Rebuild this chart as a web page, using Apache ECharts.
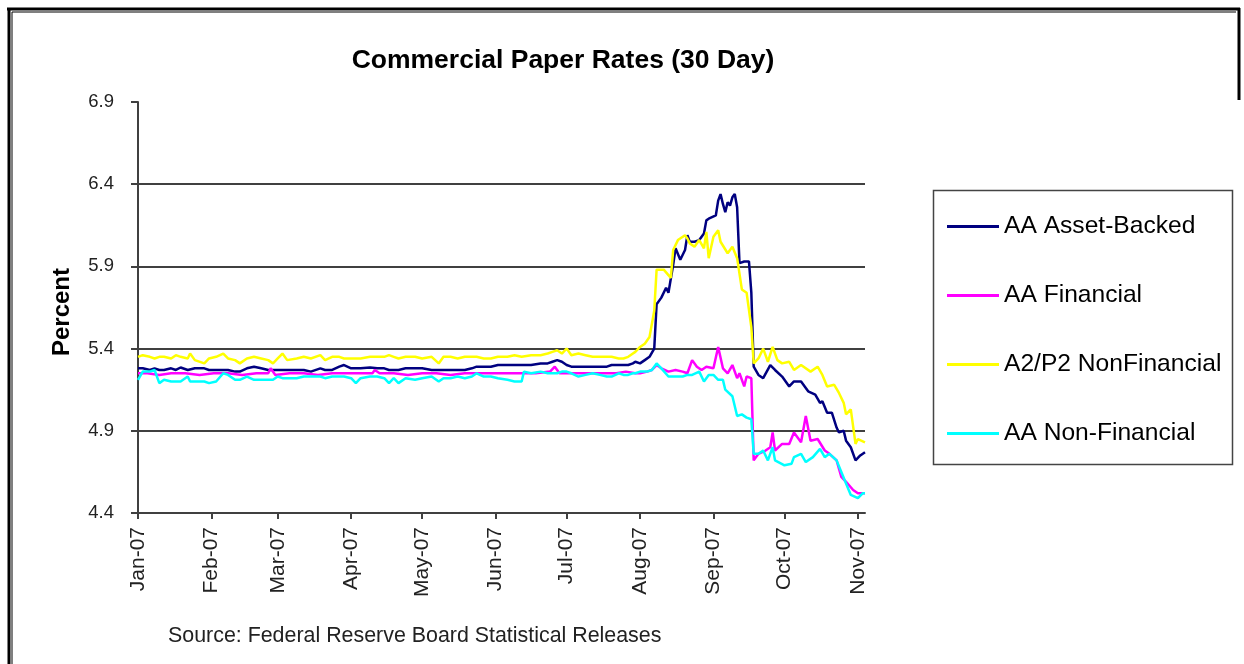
<!DOCTYPE html>
<html>
<head>
<meta charset="utf-8">
<script src="https://cdn.jsdelivr.net/npm/echarts/dist/echarts.min.js"></script>
<style>
html,body{margin:0;padding:0;background:#fff;}
#chart{width:1244px;height:664px;}
</style>
</head>
<body>
<div id="chart"></div>
<script>
// Data points: [days since 2007-01-01, percent]
const monthLabels = ['Jan-07','Feb-07','Mar-07','Apr-07','May-07','Jun-07','Jul-07','Aug-07','Sep-07','Oct-07','Nov-07','Dec-07'];
const seriesNames = ['AA Asset-Backed','AA Financial','A2/P2 NonFinancial','AA Non-Financial'];
const yTicks = [4.4, 4.9, 5.4, 5.9, 6.4, 6.9];

const assetBacked = [[0,5.28],[2,5.28],[5,5.27],[7,5.28],[9,5.27],[11,5.27],[14,5.28],[16,5.27],[18,5.285],[21,5.27],[24,5.28],[28,5.28],[30,5.27],[33,5.27],[36,5.27],[38,5.27],[41,5.26],[43,5.26],[46,5.28],[49,5.29],[52,5.28],[55,5.27],[59,5.27],[63,5.27],[67,5.27],[70,5.27],[73,5.26],[77,5.28],[79,5.27],[82,5.27],[85,5.29],[87,5.30],[90,5.28],[94,5.28],[98,5.285],[101,5.28],[104,5.28],[106,5.27],[110,5.27],[113,5.28],[117,5.28],[120,5.28],[124,5.27],[127,5.27],[132,5.27],[135,5.27],[138,5.27],[141,5.28],[143,5.29],[146,5.29],[149,5.29],[152,5.30],[156,5.30],[159,5.30],[162,5.30],[166,5.30],[170,5.31],[173,5.31],[175,5.32],[177,5.33],[179,5.32],[181,5.30],[183,5.29],[186,5.29],[189,5.29],[192,5.29],[195,5.29],[198,5.29],[200,5.30],[203,5.30],[205,5.30],[207,5.30],[209,5.31],[210,5.32],[212,5.31],[214,5.33],[216,5.35],[218,5.40],[219,5.67],[221,5.71],[223,5.77],[224,5.74],[226,5.91],[227,6.01],[229,5.94],[231,6.00],[232,6.09],[233,6.05],[235,6.05],[237,6.06],[239,6.10],[240,6.18],[241,6.19],[244,6.21],[245,6.30],[246,6.34],[247,6.28],[248,6.23],[249,6.29],[250,6.27],[251,6.32],[252,6.34],[253,6.26],[254,5.92],[256,5.93],[258,5.93],[259,5.74],[260,5.29],[262,5.24],[264,5.22],[267,5.30],[269,5.27],[272,5.23],[275,5.17],[277,5.20],[280,5.20],[283,5.14],[286,5.12],[288,5.07],[289,5.08],[291,5.01],[293,5.01],[295,4.92],[296,4.89],[298,4.90],[299,4.84],[301,4.80],[303,4.72],[305,4.75],[307,4.77]];

const financial = [[0,5.25],[4,5.25],[9,5.24],[14,5.25],[20,5.25],[26,5.24],[32,5.25],[38,5.25],[44,5.24],[50,5.25],[55,5.25],[56,5.28],[58,5.24],[64,5.25],[70,5.25],[76,5.24],[82,5.25],[88,5.25],[94,5.25],[99,5.25],[100,5.27],[102,5.25],[108,5.25],[114,5.24],[120,5.25],[126,5.25],[132,5.24],[138,5.25],[144,5.25],[150,5.25],[156,5.25],[162,5.25],[168,5.25],[174,5.26],[176,5.29],[178,5.25],[184,5.25],[190,5.25],[196,5.25],[202,5.25],[206,5.26],[210,5.25],[212,5.25],[215,5.26],[217,5.27],[219,5.30],[221,5.28],[224,5.26],[227,5.27],[230,5.26],[232,5.25],[234,5.33],[236,5.29],[238,5.27],[240,5.29],[243,5.28],[245,5.41],[247,5.28],[249,5.25],[251,5.30],[253,5.22],[254,5.25],[256,5.17],[257,5.23],[259,5.22],[260,4.72],[262,4.76],[265,4.78],[267,4.80],[268,4.89],[269,4.78],[272,4.82],[275,4.82],[277,4.89],[280,4.83],[282,4.99],[284,4.84],[287,4.85],[290,4.78],[292,4.76],[295,4.72],[297,4.62],[299,4.59],[302,4.54],[304,4.52],[307,4.52]];

const a2p2NonFinancial = [[0,5.35],[2,5.36],[5,5.35],[7,5.34],[9,5.35],[11,5.35],[14,5.34],[16,5.36],[18,5.35],[21,5.34],[22,5.37],[24,5.33],[28,5.31],[30,5.34],[33,5.35],[36,5.37],[38,5.34],[41,5.33],[43,5.31],[46,5.34],[49,5.35],[52,5.34],[55,5.33],[57,5.31],[59,5.34],[61,5.37],[63,5.33],[67,5.34],[70,5.35],[73,5.34],[77,5.36],[79,5.33],[82,5.35],[85,5.35],[87,5.34],[90,5.34],[94,5.34],[98,5.35],[101,5.35],[104,5.35],[106,5.36],[108,5.35],[110,5.34],[113,5.35],[117,5.35],[120,5.34],[124,5.35],[127,5.31],[129,5.35],[132,5.35],[135,5.34],[138,5.35],[141,5.35],[143,5.35],[146,5.34],[149,5.34],[152,5.35],[156,5.35],[159,5.36],[162,5.35],[166,5.36],[170,5.36],[173,5.37],[175,5.38],[177,5.39],[179,5.37],[181,5.40],[183,5.36],[186,5.37],[189,5.36],[192,5.35],[195,5.35],[198,5.35],[200,5.35],[203,5.34],[205,5.34],[207,5.35],[209,5.37],[210,5.38],[212,5.41],[214,5.43],[216,5.47],[218,5.63],[219,5.88],[222,5.88],[225,5.83],[226,6.00],[228,6.06],[231,6.09],[232,6.07],[233,6.04],[235,6.02],[237,6.06],[239,6.01],[240,6.11],[241,5.95],[243,6.08],[245,6.12],[246,6.05],[249,5.98],[251,6.02],[253,5.95],[255,5.76],[257,5.74],[259,5.53],[260,5.31],[262,5.34],[264,5.40],[266,5.32],[268,5.41],[270,5.33],[272,5.31],[275,5.32],[277,5.27],[280,5.30],[284,5.26],[287,5.29],[289,5.24],[291,5.17],[294,5.18],[296,5.13],[298,5.07],[299,5.00],[301,5.03],[303,4.82],[304,4.85],[307,4.83]];

const nonFinancial = [[0,5.21],[2,5.26],[5,5.26],[7,5.27],[9,5.19],[11,5.21],[14,5.20],[16,5.20],[18,5.20],[21,5.23],[22,5.20],[24,5.20],[28,5.20],[30,5.19],[33,5.20],[36,5.25],[38,5.24],[41,5.21],[43,5.21],[46,5.23],[49,5.21],[52,5.21],[55,5.21],[57,5.21],[59,5.23],[61,5.22],[63,5.22],[67,5.22],[70,5.23],[73,5.23],[77,5.23],[79,5.22],[82,5.23],[85,5.23],[87,5.23],[90,5.22],[92,5.19],[94,5.22],[98,5.23],[101,5.23],[104,5.22],[106,5.19],[108,5.22],[110,5.19],[113,5.22],[117,5.21],[120,5.22],[124,5.23],[127,5.20],[129,5.22],[132,5.22],[135,5.23],[138,5.22],[141,5.23],[143,5.25],[146,5.23],[149,5.23],[152,5.22],[156,5.21],[159,5.20],[162,5.20],[163,5.26],[166,5.25],[170,5.26],[173,5.25],[175,5.25],[177,5.25],[179,5.26],[181,5.26],[183,5.25],[186,5.23],[189,5.24],[192,5.25],[195,5.24],[198,5.23],[200,5.23],[203,5.25],[205,5.24],[207,5.24],[209,5.25],[210,5.25],[212,5.26],[215,5.26],[217,5.27],[219,5.31],[221,5.28],[224,5.23],[227,5.23],[230,5.23],[232,5.24],[234,5.24],[237,5.26],[239,5.20],[241,5.24],[243,5.24],[245,5.21],[247,5.21],[248,5.15],[251,5.11],[253,4.99],[255,5.00],[257,4.98],[259,4.97],[260,4.76],[262,4.76],[264,4.78],[266,4.72],[268,4.80],[269,4.72],[273,4.69],[276,4.70],[277,4.74],[280,4.76],[282,4.71],[285,4.74],[288,4.79],[290,4.74],[292,4.76],[295,4.72],[297,4.65],[299,4.58],[301,4.51],[304,4.49],[306,4.52],[307,4.52]];

const seriesColors = ['#000080','#FF00FF','#FFFF00','#00FFFF'];
const seriesData = [assetBacked, financial, a2p2NonFinancial, nonFinancial];

// Calendar-day category axis: 2007-01-01 .. 2007-11-04
const DAY_COUNT = 308;
const startMs = Date.UTC(2007, 0, 1);
const dayDates = [];
const categories = [];
for (let i = 0; i < DAY_COUNT; i++) {
  const d = new Date(startMs + i * 86400000);
  dayDates.push(d);
  categories.push(d.toISOString().slice(0, 10));
}
const isMonthStart = (idx) => dayDates[idx] && dayDates[idx].getUTCDate() === 1;

const FONT = "'Liberation Sans', Arial, sans-serif";
const chart = echarts.init(document.getElementById('chart'), null, {renderer: 'canvas'});

chart.setOption({
  animation: false,
  backgroundColor: '#ffffff',
  textStyle: {fontFamily: FONT},
  title: {
    text: 'Commercial Paper Rates (30 Day)',
    left: 563, top: 47, textAlign: 'center', padding: 0,
    textStyle: {fontFamily: FONT, fontWeight: 'bold', fontSize: 26.5, color: '#000'}
  },
  grid: {left: 138, right: 379, top: 102, bottom: 151, containLabel: false},
  xAxis: {
    type: 'category',
    data: categories,
    boundaryGap: false,
    axisLine: {lineStyle: {color: '#404040', width: 2}},
    axisTick: {interval: (idx) => isMonthStart(idx), length: 6, lineStyle: {color: '#404040', width: 2}},
    axisLabel: {
      interval: (idx) => isMonthStart(idx),
      rotate: 90, margin: 14, fontSize: 21, color: '#222', fontFamily: FONT,
      formatter: (val, idx) => monthLabels[dayDates[idx].getUTCMonth()]
    },
    splitLine: {show: false}
  },
  yAxis: {
    type: 'value',
    min: yTicks[0], max: yTicks[yTicks.length - 1], interval: 0.5,
    axisLine: {show: true, lineStyle: {color: '#404040', width: 2}},
    axisTick: {show: true, length: 7, lineStyle: {color: '#404040', width: 2}},
    axisLabel: {fontSize: 18.5, color: '#222', margin: 24, fontFamily: FONT, formatter: (v) => v.toFixed(1)},
    splitLine: {show: true, showMinLine: false, showMaxLine: false, lineStyle: {color: '#404040', width: 2}}
  },
  legend: {
    orient: 'vertical', left: 947, top: 214, padding: 0,
    icon: 'rect', itemWidth: 52, itemHeight: 3, itemGap: 44, itemTextGap: 5,
    data: seriesNames,
    textStyle: {fontSize: 24.6, lineHeight: 24, color: '#000', fontFamily: FONT}
  },
  series: seriesNames.map((name, i) => ({
    name: name,
    type: 'line',
    data: seriesData[i],
    showSymbol: false, symbol: 'none',
    color: seriesColors[i],
    lineStyle: {color: seriesColors[i], width: 2.5},
    z: 2 + i
  })),
  graphic: [
    {type: 'line', shape: {x1: 7, y1: 9, x2: 1240, y2: 9}, style: {stroke: '#000', lineWidth: 3}},
    {type: 'line', shape: {x1: 9, y1: 8, x2: 9, y2: 664}, style: {stroke: '#000', lineWidth: 3}},
    {type: 'line', shape: {x1: 12, y1: 12, x2: 12, y2: 664}, style: {stroke: '#000', lineWidth: 1}},
    {type: 'line', shape: {x1: 12, y1: 12, x2: 1236, y2: 12}, style: {stroke: '#000', lineWidth: 1}},
    {type: 'line', shape: {x1: 1239, y1: 8, x2: 1239, y2: 100}, style: {stroke: '#000', lineWidth: 3}},
    {type: 'rect', shape: {x: 933.5, y: 190.5, width: 299, height: 274},
     style: {fill: 'none', stroke: '#444', lineWidth: 1.5}},
    {type: 'text', x: 62, y: 312, rotation: Math.PI / 2,
     style: {text: 'Percent', font: "bold 24px 'Liberation Sans', Arial, sans-serif", fill: '#000', align: 'center', verticalAlign: 'middle'}},
    {type: 'text', x: 168, y: 636,
     style: {text: 'Source: Federal Reserve Board Statistical Releases', font: "21.4px 'Liberation Sans', Arial, sans-serif", fill: '#222', align: 'left', verticalAlign: 'middle'}}
  ]
});
</script>
</body>
</html>
